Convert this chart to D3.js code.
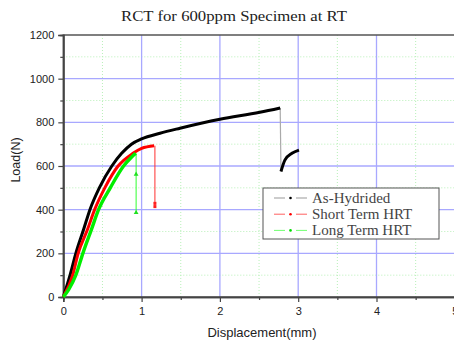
<!DOCTYPE html>
<html>
<head>
<meta charset="utf-8">
<script src="https://cdn.jsdelivr.net/npm/d3@7"></script>
<style>
  body { margin: 0; background: #fff; }
  svg { display: block; }
</style>
</head>
<body>
<div id="chart"></div>
<script>
// As-Hydrided
var ahX = [0, 0.086, 0.16, 0.26, 0.34, 0.46, 0.62, 0.745, 0.87, 1.0, 1.235, 1.49, 2.0, 2.51, 2.77];
var ahY = [0, 100, 200, 310, 400, 500, 600, 658, 700, 724, 750, 773, 814, 846, 866];
var ahDropX = [2.77, 2.78];
var ahDropY = [866, 575];
var ahRecX = [2.78, 2.83, 2.92, 3.01];
var ahRecY = [575, 627, 658, 673];

// Short Term HRT
var stX = [0, 0.12, 0.19, 0.31, 0.4, 0.53, 0.7, 0.89, 1.0, 1.16];
var stY = [0, 100, 200, 310, 400, 500, 600, 658, 681, 693];
var stDropX = [1.17, 1.17];
var stDropY = [693, 410];
var stMarks = [429, 414];

// Long Term HRT
var ltX = [0, 0.07, 0.16, 0.25, 0.36, 0.45, 0.6, 0.77, 0.87, 0.925];
var ltY = [0, 35, 100, 200, 310, 400, 500, 600, 640, 658];
var ltDropX = [0.93, 0.93];
var ltDropY = [658, 386];
var ltMarks = [562, 386];

var legendNames = ["As-Hydrided", "Short Term HRT", "Long Term HRT"];
var xTicks = [0, 1, 2, 3, 4, 5];
var yTicks = [0, 200, 400, 600, 800, 1000, 1200];

var width = 454, height = 340;
var margin = {left: 63.3, top: 35, bottom: 297};

var svg = d3.select("#chart").append("svg")
  .attr("width", width).attr("height", height);

var x = d3.scaleLinear().domain([0, 5]).range([margin.left, margin.left + 5 * 78.3]);
var y = d3.scaleLinear().domain([0, 1200]).range([margin.bottom, margin.top]);

// minor grid (green dotted)
var g = svg.append("g");
g.selectAll(".mgx").data(d3.range(0.5, 5, 1)).enter().append("line")
  .attr("x1", function (d) { return x(d); }).attr("x2", function (d) { return x(d); })
  .attr("y1", y(0)).attr("y2", y(1200))
  .attr("stroke", "#b8f0b8").attr("stroke-dasharray", "1,2").attr("stroke-width", 1);
g.selectAll(".mgy").data(d3.range(100, 1200, 200)).enter().append("line")
  .attr("x1", x(0)).attr("x2", x(5))
  .attr("y1", function (d) { return y(d); }).attr("y2", function (d) { return y(d); })
  .attr("stroke", "#b8f0b8").attr("stroke-dasharray", "1,2").attr("stroke-width", 1);
// major grid (blue)
g.selectAll(".gx").data([1, 2, 3, 4]).enter().append("line")
  .attr("x1", function (d) { return x(d); }).attr("x2", function (d) { return x(d); })
  .attr("y1", y(0)).attr("y2", y(1200))
  .attr("stroke", "#a8a8ff").attr("stroke-width", 1.3);
g.selectAll(".gy").data([200, 400, 600, 800, 1000]).enter().append("line")
  .attr("x1", x(0)).attr("x2", x(5))
  .attr("y1", function (d) { return y(d); }).attr("y2", function (d) { return y(d); })
  .attr("stroke", "#a8a8ff").attr("stroke-width", 1.3);

// frame
svg.append("rect").attr("x", x(0)).attr("y", y(1200))
  .attr("width", x(5) - x(0)).attr("height", y(0) - y(1200))
  .attr("fill", "none").attr("stroke", "#555").attr("stroke-width", 1.5);

// axes
var xAxis = d3.axisBottom(x).tickValues(xTicks).tickSize(5).tickFormat(d3.format("d"));
var xMinor = d3.axisBottom(x).tickValues(d3.range(0.5, 5, 1)).tickSize(3).tickFormat("");
var yAxis = d3.axisLeft(y).tickValues(yTicks).tickSize(5).tickFormat(d3.format("d"));
var yMinor = d3.axisLeft(y).tickValues(d3.range(100, 1200, 200)).tickSize(3).tickFormat("");

function styleAxis(sel) {
  sel.select(".domain").attr("stroke", "#444").attr("stroke-width", 1.6);
  sel.selectAll(".tick line").attr("stroke", "#444").attr("stroke-width", 1.2);
  sel.selectAll("text").attr("font-family", "Liberation Sans, Arial, sans-serif")
    .attr("font-size", 11).attr("fill", "#222");
}
svg.append("g").attr("transform", "translate(0," + y(0) + ")").call(xAxis).call(styleAxis)
  .selectAll("text").attr("dy", "0.95em");
svg.append("g").attr("transform", "translate(0," + y(0) + ")").call(xMinor).call(styleAxis);
svg.append("g").attr("transform", "translate(" + x(0) + ",0)").call(yAxis).call(styleAxis)
  .selectAll("text").attr("x", -9);
svg.append("g").attr("transform", "translate(" + x(0) + ",0)").call(yMinor).call(styleAxis);

// data lines
var line = d3.line()
  .x(function (d) { return x(d[0]); })
  .y(function (d) { return y(d[1]); })
  .curve(d3.curveMonotoneX);
var straight = d3.line()
  .x(function (d) { return x(d[0]); })
  .y(function (d) { return y(d[1]); });

function zip(a, b) { return a.map(function (v, i) { return [v, b[i]]; }); }

var plot = svg.append("g");

// drops
plot.append("path").attr("d", straight(zip(ahDropX, ahDropY)))
  .attr("fill", "none").attr("stroke", "#aaa").attr("stroke-width", 1.2);
plot.append("path").attr("d", straight(zip(stDropX, stDropY)))
  .attr("fill", "none").attr("stroke", "#ff3030").attr("stroke-width", 1);
plot.append("path").attr("d", straight(zip(ltDropX, ltDropY)))
  .attr("fill", "none").attr("stroke", "#30ff30").attr("stroke-width", 1);
plot.selectAll(".stm").data(stMarks).enter().append("rect")
  .attr("x", x(1.17) - 1.5).attr("y", function (d) { return y(d) - 1.5; })
  .attr("width", 3).attr("height", 3).attr("fill", "#ff2020");
plot.selectAll(".ltm").data(ltMarks).enter().append("path")
  .attr("d", d3.symbol().type(d3.symbolTriangle).size(10))
  .attr("transform", function (d) { return "translate(" + x(0.93) + "," + y(d) + ")"; })
  .attr("fill", "#20e020");

plot.append("path").attr("d", line(zip(ahX, ahY)))
  .attr("fill", "none").attr("stroke", "#000").attr("stroke-width", 3);
plot.append("path").attr("d", line(zip(ahRecX, ahRecY)))
  .attr("fill", "none").attr("stroke", "#000").attr("stroke-width", 3);
plot.append("path").attr("d", line(zip(stX, stY)))
  .attr("fill", "none").attr("stroke", "#ff0000").attr("stroke-width", 3);
plot.append("path").attr("d", line(zip(ltX, ltY)))
  .attr("fill", "none").attr("stroke", "#00ee00").attr("stroke-width", 3.4);

// titles
svg.append("text").attr("x", 234).attr("y", 21).attr("text-anchor", "middle")
  .attr("font-family", "Liberation Serif, DejaVu Serif, serif").attr("font-size", 15)
  .attr("fill", "#222").attr("textLength", 226).attr("lengthAdjust", "spacingAndGlyphs")
  .text("RCT for 600ppm Specimen at RT");
svg.append("text").attr("x", 262).attr("y", 337).attr("text-anchor", "middle")
  .attr("font-family", "Liberation Sans, Arial, sans-serif").attr("font-size", 13)
  .attr("fill", "#222").text("Displacement(mm)");
svg.append("text").attr("transform", "translate(20,160) rotate(-90)")
  .attr("text-anchor", "middle")
  .attr("font-family", "Liberation Sans, Arial, sans-serif").attr("font-size", 12.5)
  .attr("fill", "#222").text("Load(N)");

// legend
var legColors = ["#999", "#ff6060", "#70ff70"];
var dotColors = ["#000", "#ff0000", "#00dd00"];
var leg = svg.append("g");
leg.append("rect").attr("x", 263).attr("y", 188).attr("width", 176).attr("height", 51)
  .attr("fill", "#fff").attr("stroke", "#555").attr("stroke-width", 1);
var rows = leg.selectAll(".row").data(legendNames).enter().append("g")
  .attr("transform", function (d, i) { return "translate(0," + (198 + i * 16.2) + ")"; });
rows.append("line").attr("x1", 274).attr("x2", 285).attr("y1", 0).attr("y2", 0)
  .attr("stroke", function (d, i) { return legColors[i]; }).attr("stroke-width", 1);
rows.append("line").attr("x1", 296).attr("x2", 307).attr("y1", 0).attr("y2", 0)
  .attr("stroke", function (d, i) { return legColors[i]; }).attr("stroke-width", 1);
rows.append("circle").attr("cx", 290.5).attr("cy", 0).attr("r", 1.3)
  .attr("fill", function (d, i) { return dotColors[i]; });
rows.append("text").attr("x", 312).attr("y", 5)
  .attr("font-family", "Liberation Serif, DejaVu Serif, serif").attr("font-size", 15)
  .attr("fill", "#444").text(function (d) { return d; });
</script>
</body>
</html>
